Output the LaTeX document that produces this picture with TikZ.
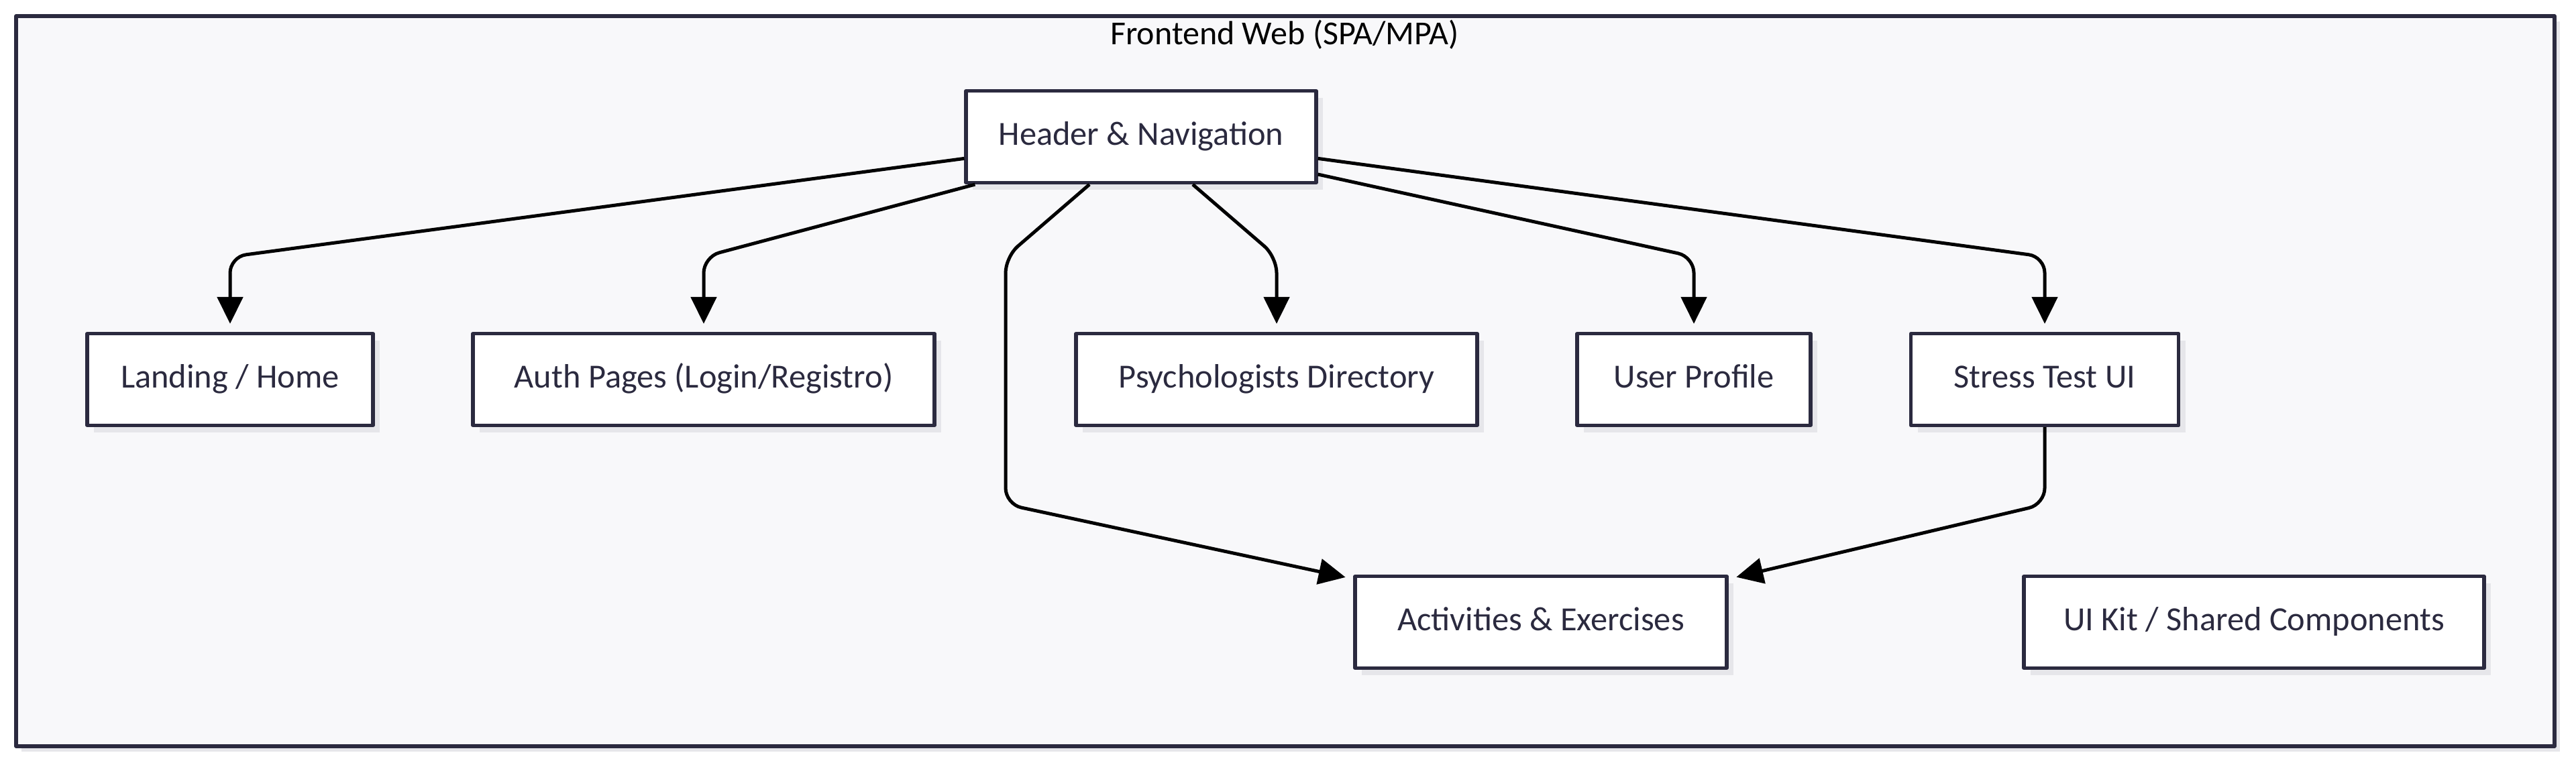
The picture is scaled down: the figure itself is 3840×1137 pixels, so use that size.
\documentclass[tikz,border=0pt]{standalone}
\usepackage{fontspec}
\setmainfont{Carlito}
\usetikzlibrary{arrows.meta,shadows}
\definecolor{navy}{HTML}{2B2A3F}
\definecolor{panel}{HTML}{F8F8FA}
\definecolor{shade}{HTML}{E6E6EA}
\begin{document}
\begin{tikzpicture}[x=0.25pt,y=-0.25pt,line join=round]
	\tikzset{box/.style={draw=navy,line width=1.3pt,fill=white,text=navy,inner sep=0pt,minimum height=34.25pt,text height=8.6pt,text depth=2.4pt,font=\fontsize{12.6}{15}\selectfont,drop shadow={shadow xshift=2.5pt,shadow yshift=-2.5pt,fill=shade,opacity=1}},
		link/.style={draw=black,line width=1.25pt,rounded corners=6pt,-{Triangle[length=10pt,width=9.5pt]},shorten >=3pt}}
	\useasboundingbox (0,0) rectangle (3840,1137);
	\draw[navy,fill=panel,line width=1.3pt,drop shadow={shadow xshift=2pt,shadow yshift=-2pt,fill=shade,opacity=1}] (24,24) rectangle (3808,1113);
	\node[font=\fontsize{12.5}{15}\selectfont] (title) at (1915,52) {Frontend Web (SPA/MPA)};
	% boxes
	\node[box,minimum width=130.5pt] (hdr) at (1701,204) {Header \& Navigation};
	\node[box,minimum width=106.5pt] (land) at (343,566) {Landing / Home};
	\node[box,minimum width=172pt] (auth) at (1049,566) {Auth Pages (Login/Registro)};
	\node[box,minimum width=149.5pt] (psy) at (1903,566) {Psychologists Directory};
	\node[box,minimum width=87pt] (prof) at (2525,566) {User Profile};
	\node[box,minimum width=99.75pt] (stress) at (3048,566) {Stress Test UI};
	\node[box,minimum width=138.5pt] (act) at (2297,928) {Activities \& Exercises};
	\node[box,minimum width=171.5pt] (kit) at (3360,928) {UI Kit / Shared Components};
	% bends
	\coordinate (upper) at (0,383);
	\coordinate (lower) at (0,752);
	\coordinate (lbend) at (1499,383);
	\draw[link] (hdr.187) -- (land.north |- upper) -- (land.north);
	\draw[link] ([xshift=4pt]hdr.south west) -- (auth.north |- upper) -- (auth.north);
	\draw[link] ([xshift=19.25pt]hdr.south) -- (psy.north |- upper) -- (psy.north);
	\draw[link] ([xshift=-19.25pt]hdr.south) -- (lbend) -- (lbend |- lower) -- (act.167);
	\draw[link] (hdr.-12) -- (prof.north |- upper) -- (prof.north);
	\draw[link] (hdr.-7) -- (stress.north |- upper) -- (stress.north);
	\draw[link] (stress.south) -- (stress.south |- lower) -- (act.13);
\end{tikzpicture}
\end{document}
